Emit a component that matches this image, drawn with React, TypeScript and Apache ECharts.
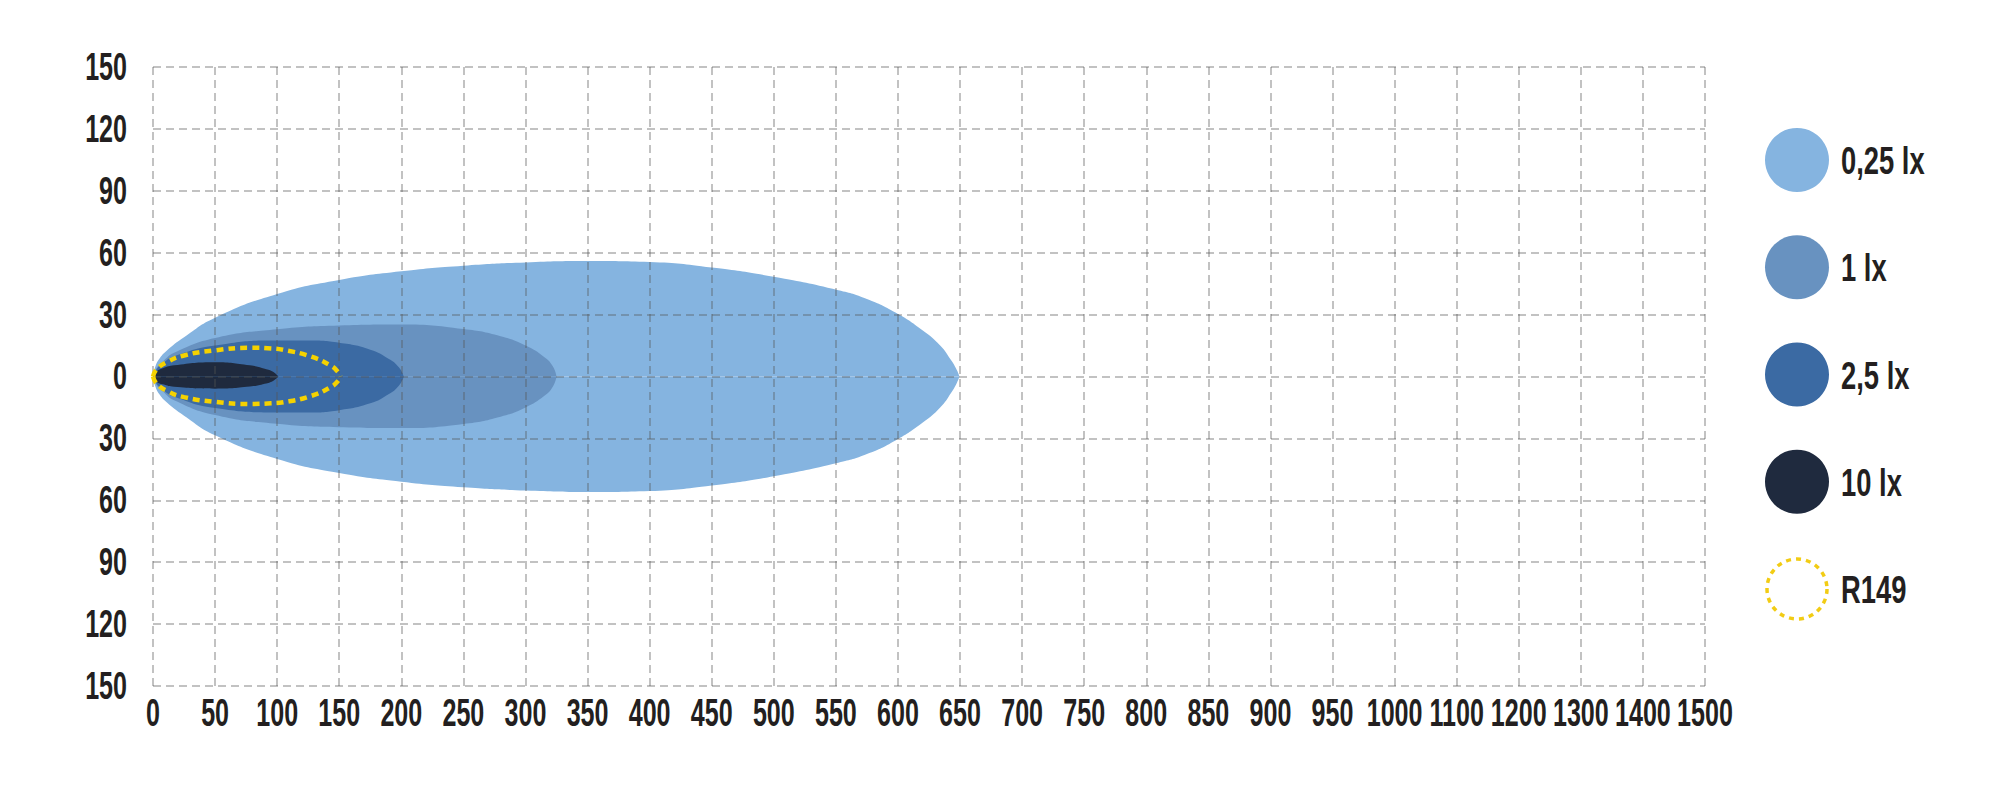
import React, { useEffect, useRef } from 'react';
import * as echarts from 'echarts';

const FONT = "'Liberation Sans', Arial, 'DejaVu Sans', sans-serif";

// X tick labels (equal grid spacing; after 1000 the step becomes 100)
const xTickLabels = ['0', '50', '100', '150', '200', '250', '300', '350', '400', '450', '500', '550', '600', '650', '700', '750', '800', '850', '900', '950', '1000', '1100', '1200', '1300', '1400', '1500'];
// Y tick values (labels shown as absolute values)
const yTickValues = [150, 120, 90, 60, 30, 0, -30, -60, -90, -120, -150];

// Legend
const legendNames = ['0,25 lx', '1 lx', '2,5 lx', '10 lx', 'R149'];
const legendColors = ['#85b4e0', '#6892c0', '#3b6aa3', '#1f2a3e', '#f2cc14'];

// 0,25 lx contour
const lx025X = [0, 2, 5, 11, 25, 50, 100, 150, 200, 250, 300, 350, 400, 450, 500, 552, 575, 598, 620, 634, 643, 647.5, 649.5];
const lx025Up = [0, 5, 8.5, 12.5, 19, 28.5, 40, 46.8, 51, 53.7, 55.3, 56, 55.5, 52.8, 48.3, 41.8, 37.6, 31, 22.3, 15, 7.7, 3, 0];
const lx025Lo = [0, -5, -8.5, -12.5, -19, -28.5, -40, -46.8, -51, -53.7, -55.3, -56, -55.5, -52.8, -48.3, -41.8, -37.6, -31, -22.3, -15, -7.7, -3, 0];

// 1 lx contour
const lx1X = [0, 3, 8, 17, 50, 100, 150, 200, 250, 280, 300, 315, 322, 325];
const lx1Up = [0, 4.2, 7.3, 11.5, 18.7, 22.9, 24.7, 25.2, 23, 19.5, 15, 9.5, 5, 0];
const lx1Lo = [0, -4.2, -7.3, -11.5, -18.7, -22.9, -24.6, -25, -23, -19.5, -15, -9.5, -5, 0];

// 2,5 lx contour
const lx25X = [0, 3, 8, 17, 50, 100, 125, 150, 175, 190, 198, 202];
const lx25Up = [0, 3.5, 6.5, 9.8, 15, 17.4, 17.4, 16.3, 13, 8.5, 4.5, 0];
const lx25Lo = [0, -3.5, -6.5, -9.8, -15.3, -17.4, -17.4, -16.3, -13, -8.5, -4.5, 0];

// 10 lx contour
const lx10X = [0, 3, 8, 17, 50, 78, 90, 97, 101];
const lx10Up = [0, 2.5, 4, 5.4, 6.9, 5.4, 3.8, 2.2, 0];
const lx10Lo = [0, -2.5, -3.8, -5, -5.9, -4.9, -3.5, -2, 0];

// R149 contour
const r149X = [0, 3, 11, 25, 49, 78, 95, 105, 127, 143, 149, 151];
const r149Up = [0, 3.5, 6.9, 10.2, 12.6, 13.9, 13.6, 12.9, 9.7, 5.3, 2.2, 0];
const r149Lo = [0, -3.5, -6.9, -10, -12.2, -13.3, -13, -12.5, -9.5, -5.2, -2.2, 0];

const zip = (xs: number[], ys: number[]) => xs.map((x, i) => [x, ys[i]]);

function areaSeries(name: string, color: string, xs: number[], ys: number[]) {
  return {
    name,
    type: 'line',
    data: zip(xs, ys),
    smooth: 0.5,
    symbol: 'none',
    z: 2,
    lineStyle: { width: 0, color },
    itemStyle: { color },
    areaStyle: { color, opacity: 1, origin: 0 },
    silent: true,
  };
}

function outlineSeries(name: string, color: string, xs: number[], ys: number[]) {
  return {
    name,
    type: 'line',
    data: zip(xs, ys),
    smooth: 0.5,
    symbol: 'none',
    z: 6,
    lineStyle: { width: 4.5, color, type: [7, 5], cap: 'butt' },
    itemStyle: { color },
    silent: true,
  };
}

const gridLine = { show: true, lineStyle: { color: 'rgba(85,85,85,0.48)', width: 1.5, type: [8, 5] } };
const LABEL_SCALE = 0.66;

export default function App() {
  const ref = useRef<HTMLDivElement>(null);
  useEffect(() => {
    document.body.style.margin = '0';
    const chart = echarts.init(ref.current as HTMLDivElement, null, { renderer: 'svg' });

    const option: any = {
      animation: false,
      backgroundColor: '#ffffff',
      grid: { left: 153, top: 67, width: 1552, height: 619 },
      xAxis: {
        type: 'value',
        min: 0,
        max: 1250,
        interval: 50,
        z: 4,
        axisLine: { show: false },
        axisTick: { show: false },
        splitLine: gridLine,
        axisLabel: { show: false },
      },
      yAxis: {
        type: 'value',
        min: -150,
        max: 150,
        interval: 30,
        z: 4,
        axisLine: { show: false },
        axisTick: { show: false },
        splitLine: gridLine,
        axisLabel: { show: false },
      },
      series: [
        areaSeries(legendNames[0], legendColors[0], lx025X, lx025Up),
        areaSeries(legendNames[0], legendColors[0], lx025X, lx025Lo),
        areaSeries(legendNames[1], legendColors[1], lx1X, lx1Up),
        areaSeries(legendNames[1], legendColors[1], lx1X, lx1Lo),
        areaSeries(legendNames[2], legendColors[2], lx25X, lx25Up),
        areaSeries(legendNames[2], legendColors[2], lx25X, lx25Lo),
        areaSeries(legendNames[3], legendColors[3], lx10X, lx10Up),
        areaSeries(legendNames[3], legendColors[3], lx10X, lx10Lo),
        outlineSeries(legendNames[4], '#f5d200', r149X, r149Up),
        outlineSeries(legendNames[4], '#f5d200', r149X, r149Lo),
      ],
    };
    chart.setOption(option);

    const graphic: any[] = [];
    // Axis tick labels, placed through the chart's own scales
    xTickLabels.forEach((t, i) => {
      const p = chart.convertToPixel({ gridIndex: 0 }, [i * 50, -150]) as number[];
      graphic.push({
        type: 'text',
        x: p[0],
        y: p[1] + 27,
        scaleX: LABEL_SCALE,
        style: { text: t, fill: '#231f20', font: `bold 38px ${FONT}`, textAlign: 'center', textVerticalAlign: 'middle' },
      });
    });
    yTickValues.forEach((v) => {
      const p = chart.convertToPixel({ gridIndex: 0 }, [0, v]) as number[];
      graphic.push({
        type: 'text',
        x: p[0] - 26,
        y: p[1],
        scaleX: LABEL_SCALE,
        style: { text: String(Math.abs(v)), fill: '#231f20', font: `bold 38px ${FONT}`, textAlign: 'right', textVerticalAlign: 'middle' },
      });
    });
    // Legend
    const legendY0 = 160;
    const legendStep = 107.25;
    legendNames.forEach((n, i) => {
      const cy = legendY0 + i * legendStep;
      const isOutline = i === legendNames.length - 1;
      graphic.push({
        type: 'circle',
        shape: { cx: 1797, cy, r: isOutline ? 30 : 32 },
        style: isOutline
          ? { fill: 'none', stroke: legendColors[i], lineWidth: 3.5, lineDash: [5, 5] }
          : { fill: legendColors[i] },
      });
      graphic.push({
        type: 'text',
        x: 1841,
        y: cy + 1,
        scaleX: 0.72,
        style: { text: n, fill: '#231f20', font: `bold 38px ${FONT}`, textVerticalAlign: 'middle', textAlign: 'left' },
      });
    });
    chart.setOption({ graphic });
    return () => chart.dispose();
  }, []);
  return <div ref={ref} style={{ width: 2000, height: 797 }} />;
}
